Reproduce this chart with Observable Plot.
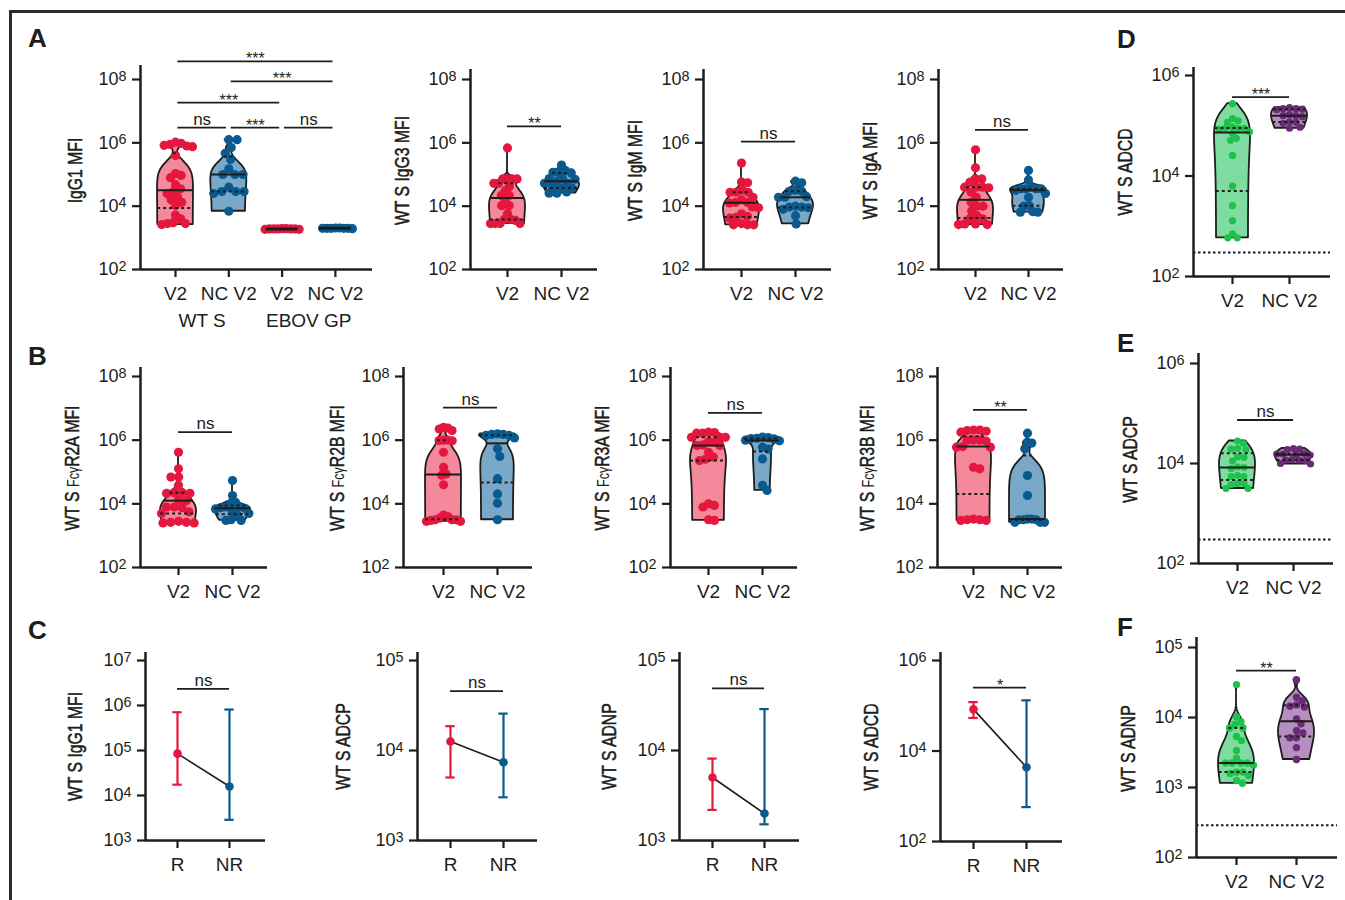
<!DOCTYPE html>
<html><head><meta charset="utf-8">
<script src="https://cdn.jsdelivr.net/npm/d3@7"></script>
<script src="https://cdn.jsdelivr.net/npm/@observablehq/plot@0.6"></script>
<style>
body{margin:0;background:#fff;overflow:hidden;}
#fig{position:relative;width:1345px;height:900px;overflow:hidden;background:#fff;font-family:'Liberation Sans',Arimo,Arial,sans-serif;color:#1d1d1b;}
.fr{position:absolute;background:#2b2b2b}
.letter{position:absolute;font-weight:bold;font-size:26px;line-height:1;}
</style></head><body><div id="fig">
<div class="fr" style="left:9px;top:10px;width:1336px;height:3px"></div>
<div class="fr" style="left:9px;top:10px;width:3px;height:890px"></div>
</div>
<script>
// ---------------- DATA (log10 of the plotted value) ----------------
// Panel A – WT S / EBOV GP IgG1 MFI
const igg1WtsV2   = [6.02,5.98,5.95,5.92,5.9,5.88,5.6,5.03,4.97,4.9,4.68,4.55,4.45,4.4,4.3,4.2,4.12,4.02,3.72,3.6,3.48,3.45,3.45,3.42];
const igg1WtsNcV2 = [6.1,6.1,5.85,5.67,5.47,5.18,5.0,5.0,5.0,4.6,4.46,4.46,4.46,4.4,3.84];
const igg1EbovV2  = [3.28,3.28,3.27,3.29,3.28,3.28,3.27,3.29,3.28];
const igg1EbovNcV2= [3.3,3.31,3.3,3.29,3.3,3.31,3.3,3.3];
// Panel A – IgG3, IgM, IgA
const igg3V2   = [5.84,4.86,4.86,4.86,4.86,4.72,4.72,4.62,4.49,4.34,4.34,4.18,4.02,4.02,3.77,3.58,3.58,3.55,3.45,3.45,3.45,3.45];
const igg3NcV2 = [5.3,5.12,5.07,5.07,5.05,4.87,4.87,4.85,4.79,4.72,4.72,4.62,4.57,4.57,4.45,4.41,4.41];
const igmV2    = [5.36,4.76,4.74,4.5,4.44,4.44,4.44,4.28,4.2,4.12,4.12,4.1,3.97,3.95,3.76,3.68,3.65,3.62,3.45,3.41,3.41,3.41];
const igmNcV2  = [4.79,4.74,4.5,4.47,4.47,4.3,4.28,4.28,4.0,3.97,3.97,3.95,3.9,3.7,3.44];
const igaV2    = [5.78,5.21,4.86,4.86,4.75,4.6,4.6,4.6,4.58,4.44,4.28,4.12,4.0,4.0,3.85,3.7,3.6,3.6,3.44,3.42,3.42,3.44];
const igaNcV2  = [5.13,4.83,4.6,4.55,4.55,4.55,4.55,4.5,4.4,4.28,4.02,4.0,3.83,3.81,3.81];
// Panel B – Fc receptor binding
const r2aV2   = [5.62,5.1,4.84,4.84,4.58,4.35,4.33,4.33,4.35,4.1,4.12,3.9,3.88,3.9,3.75,3.7,3.42,3.4,3.4,3.42,3.45];
const r2aNcV2 = [4.73,4.26,4.05,4.0,3.9,3.9,3.88,3.86,3.84,3.75,3.7,3.65,3.5,3.48,3.48];
const r2bV2   = [6.4,6.38,6.35,6.3,6.0,6.0,5.99,5.98,5.62,5.15,4.94,4.9,4.6,3.65,3.6,3.55,3.5,3.5,3.48,3.45,3.45,3.5];
const r2bNcV2 = [6.2,6.18,6.18,6.15,6.15,6.07,5.73,5.49,4.79,4.31,4.02,3.5];
const r3aV2   = [6.25,6.24,6.22,6.22,6.1,6.09,6.09,5.95,5.94,5.85,5.83,5.83,5.62,5.47,5.4,5.36,4.0,3.95,3.9,3.5,3.48];
const r3aNcV2 = [6.1,6.08,6.06,6.05,6.04,6.0,5.98,5.78,5.72,5.41,4.58,4.42];
const r3bV2   = [6.32,6.32,6.28,6.3,6.25,6.0,6.0,5.99,5.97,5.8,5.78,5.78,5.15,5.1,3.52,3.5,3.48,3.5,3.48];
const r3bNcV2 = [6.22,5.93,5.91,5.73,4.89,4.26,3.52,3.52,3.5,3.5,3.5,3.42,3.42,3.42];
// Panels D, E, F – functions
const adcdV2   = [5.44,5.14,5.1,5.07,4.98,4.95,4.95,4.95,4.93,4.88,4.85,4.75,4.71,4.41,3.8,3.41,3.11,2.85,2.77,2.77];
const adcdNcV2 = [5.36,5.34,5.34,5.33,5.32,5.22,5.2,5.2,5.18,5.08,5.07,5.05,4.97,4.95];
const adcpV2   = [4.45,4.4,4.3,4.29,4.28,4.13,4.12,4.05,3.93,3.9,3.92,3.76,3.74,3.74,3.6,3.58,3.6,3.5,3.5];
const adcpNcV2 = [4.3,4.29,4.28,4.2,4.19,4.19,4.18,4.17,4.08,4.07,4.07,4.06,4.0,3.99];
const adnpV2   = [4.47,4.01,3.94,3.9,3.85,3.85,3.73,3.67,3.53,3.42,3.35,3.35,3.35,3.35,3.32,3.22,3.22,3.2,3.17,3.1,3.06];
const adnpNcV2 = [4.54,4.29,4.24,4.15,4.18,4.16,3.98,3.91,3.81,3.78,3.71,3.71,3.57,3.4];
// Panel C – responders (R) vs non-responders (NR): [centre, low, high]
const cIgG1 = [[4.93,4.24,5.85],[4.2,3.46,5.91]];
const cAdcp = [[4.1,3.7,4.27],[3.87,3.48,4.41]];
const cAdnp = [[3.7,3.34,3.91],[3.3,3.18,4.46]];
const cAdcd = [[4.92,4.73,5.08],[3.64,2.76,5.12]];
// labels
const groupLabels = ["V2","NC V2"];
const groupLabelsA1 = ["V2","NC V2","V2","NC V2"];
const antigenLabels = ["WT S","EBOV GP"];
const respLabels = ["R","NR"];
// significance: [from group, to group, level (log10), label]
const sigA1 = [[0,3,8.57,"***"],[1,3,7.94,"***"],[0,2,7.27,"***"],[0,1,6.48,"ns"],[1,2,6.48,"***"],[2,3,6.48,"ns"]];
const sigA2=[[0,1,6.52,"**"]], sigA3=[[0,1,6.04,"ns"]], sigA4=[[0,1,6.41,"ns"]], sigD=[[0,1,5.57,"***"]];
const sigB1=[[0,1,6.25,"ns"]], sigB2=[[0,1,7.02,"ns"]], sigB3=[[0,1,6.86,"ns"]], sigB4=[[0,1,6.95,"**"]], sigE=[[0,1,4.87,"ns"]];
const sigC1=[[0,1,6.37,"ns"]], sigC2=[[0,1,4.66,"ns"]], sigC3=[[0,1,4.69,"ns"]], sigC4=[[0,1,5.4,"*"]], sigF=[[0,1,4.67,"**"]];

// ---------------- STYLE ----------------
const INK="#1d1d1b";
const RED="#E5173F", PINK="#F4899B", BLUE="#0B5A8F", LBLUE="#79A8C8";
const GREEN="#1EC24B", LGREEN="#7EDCA0", PURPLE="#6B2A75", LPURPLE="#B68FC1";
const SANS="'Liberation Sans', Arimo, Arial, sans-serif";

function swarm(vals, ppd, r, cap){
  const d=2*r*0.9;
  const pts=vals.map(t=>({t,y:-t*ppd})).sort((a,b)=>a.y-b.y);
  const placed=[];
  for(const p of pts){
    const c=[0];
    for(const q of placed){const dy=q.y-p.y; if(Math.abs(dy)<d){const dx=Math.sqrt(d*d-dy*dy); c.push(q.x+dx+1e-6,q.x-dx-1e-6);}}
    c.sort((a,b)=>Math.abs(a)-Math.abs(b));
    let best=c.find(cx=>placed.every(q=>(q.x-cx)**2+(q.y-p.y)**2>=d*d-1e-3));
    if(best===undefined) best=(d3.max(placed,q=>q.x)||0)+d;
    p.x=best; placed.push(p);
  }
  const m=d3.max(placed,p=>Math.abs(p.x));
  if(m>cap) placed.forEach(p=>p.x*=cap/m);
  return placed;
}

function violin(g,i,cfg,sp,ppd){
  const r=cfg.r, maxHalf=18/sp, cap=17;
  const vals=g.vals.slice().sort(d3.ascending);
  const lo=vals[0], hi=vals[vals.length-1];
  const lin=vals.map(v=>10**v);
  const marks=[];
  const q=[0.25,0.5,0.75].map(p=>d3.quantile(vals,p));
  const flat = hi-lo<0.1;
  let widthAt=()=>0.3;
  if(!flat){
    const sd=d3.deviation(lin);
    const iqr=d3.quantile(lin,0.75)-d3.quantile(lin,0.25);
    let s=Math.min(sd,iqr/1.34); if(!(s>0)) s=sd;
    const bw=0.9*s*Math.pow(lin.length,-0.2)*(cfg.bwk||1);
    const dens=t=>d3.sum(lin,x=>Math.exp(-0.5*((10**t-x)/bw)**2));
    const ts=d3.range(161).map(k=>lo+(hi-lo)*k/160);
    const ds=ts.map(dens), m=d3.max(ds);
    widthAt=t=>dens(t)/m*maxHalf;
    const shape=ts.map((t,k)=>({t,w:ds[k]/m*maxHalf}));
    marks.push(Plot.areaX(shape,{y:d=>10**d.t,x1:d=>i-d.w,x2:d=>i+d.w,fill:g.fill,curve:"linear"}));
    marks.push(Plot.areaX(shape,{y:d=>10**d.t,x1:d=>i-d.w,x2:d=>i+d.w,fill:"none",stroke:INK,strokeWidth:1.8,strokeLinejoin:"round",curve:"linear"}));
  }
  const pts=swarm(vals,ppd,r,cap).map(p=>({x:i+p.x/sp,t:p.t}));
  marks.push(Plot.dot(pts,{x:"x",y:d=>10**d.t,r,fill:g.dot,stroke:"none"}));
  const lines=q.map((t,k)=>({t,w:widthAt(t),med:k===1}));
  marks.push(Plot.ruleY(lines.filter(d=>d.med),{y:d=>10**d.t,x1:d=>i-d.w,x2:d=>i+d.w,stroke:INK,strokeWidth:flat?3:2}));
  if(!flat) marks.push(Plot.ruleY(lines.filter(d=>!d.med),{y:d=>10**d.t,x1:d=>i-d.w,x2:d=>i+d.w,stroke:INK,strokeWidth:2,strokeDasharray:"3,3"}));
  return marks;
}

function errMarks(errs,sp,colors){
  const pts=errs.map(([m,lo,hi],i)=>({i,m,lo,hi,c:colors[i]}));
  const cw=4.7/sp;
  const caps=pts.flatMap(p=>[{i:p.i,v:p.lo,c:p.c},{i:p.i,v:p.hi,c:p.c}]);
  return [
    Plot.line(pts,{x:"i",y:d=>10**d.m,stroke:INK,strokeWidth:1.6}),
    Plot.ruleX(pts,{x:"i",y1:d=>10**d.lo,y2:d=>10**d.hi,stroke:d=>d.c,strokeWidth:2.2}),
    Plot.ruleY(caps,{y:d=>10**d.v,x1:d=>d.i-cw,x2:d=>d.i+cw,stroke:d=>d.c,strokeWidth:2.2}),
    Plot.dot(pts,{x:"i",y:d=>10**d.m,r:4.3,fill:d=>d.c,stroke:"none"})
  ];
}

function panel(cfg){
  const ML=100, MR=12, MT=90, MB=70;
  const sp=cfg.tx[1]-cfg.tx[0];
  const x0=(cfg.left-cfg.tx[0])/sp, x1=(cfg.right-cfg.tx[0])/sp;
  const W=ML+cfg.right-cfg.left+MR, H=MT+cfg.yBot-cfg.yTop+MB;
  const ppd=(cfg.yBot-cfg.yTop)/(cfg.hi-cfg.lo);
  const marks=[];
  if(cfg.ref!=null) marks.push(Plot.ruleY([10**cfg.ref],{stroke:INK,strokeWidth:2,strokeDasharray:"2.5,2.5"}));
  if(cfg.groups) cfg.groups.forEach((g,i)=>marks.push(...violin(g,i,cfg,sp,ppd)));
  if(cfg.errs) marks.push(...errMarks(cfg.errs,sp,[RED,BLUE]));
  const br=cfg.sig.map(([a,b,lev,lab])=>({a,b,lev,lab}));
  const ins=cfg.inset||0;
  marks.push(Plot.ruleY(br,{y:d=>10**d.lev,x1:d=>d.a+ins,x2:d=>d.b-ins,stroke:INK,strokeWidth:1.8}));
  marks.push(Plot.text(br.filter(d=>d.lab==="ns"),{x:d=>(d.a+d.b)/2,y:d=>10**d.lev,text:"lab",lineAnchor:"bottom",dy:-3,fontSize:17,fill:INK}));
  marks.push(Plot.text(br.filter(d=>d.lab!=="ns"),{x:d=>(d.a+d.b)/2,y:d=>10**d.lev,text:"lab",lineAnchor:"bottom",dy:3,fontSize:16,fill:INK}));
  marks.push(Plot.ruleY([10**cfg.lo],{stroke:INK,strokeWidth:2.5}));
  marks.push(Plot.ruleX([x0],{stroke:INK,strokeWidth:2.5,insetTop:-(cfg.ext||10)}));
  marks.push(Plot.axisY({ticks:cfg.yt.map(e=>10**e),tickFormat:d=>"10^"+Math.round(Math.log10(d)),tickSize:8,tickPadding:6,fontSize:18,strokeWidth:2.2,label:null}));
  marks.push(Plot.axisX({ticks:d3.range(cfg.xl.length),tickFormat:i=>cfg.xl[i],tickSize:8,tickPadding:9,fontSize:19,strokeWidth:2.2,label:null}));
  marks.push(Plot.text([cfg.title],{frameAnchor:"left",textAnchor:"middle",lineAnchor:"middle",rotate:-90,dx:-(cfg.tdx||68),dy:-4,text:d=>d,fontFamily:SANS,fontSize:21,fill:INK,stroke:INK,strokeWidth:0.55}));
  if(cfg.sub) marks.push(Plot.text(cfg.sub,{x:"x",text:"text",frameAnchor:"bottom",dy:44,lineAnchor:"top",fontSize:19,fill:INK}));
  const svg=Plot.plot({width:W,height:H,marginLeft:ML,marginRight:MR,marginTop:MT,marginBottom:MB,
    x:{domain:[x0,x1]},y:{type:"log",domain:[10**cfg.lo,10**cfg.hi]},color:{type:"identity"},
    style:{fontFamily:SANS,color:INK,background:"none",overflow:"visible"},marks});
  svg.style.position="absolute";
  svg.style.left=(cfg.left-ML)+"px";
  svg.style.top=(cfg.yTop-MT)+"px";
  const NS="http://www.w3.org/2000/svg";
  svg.querySelectorAll("text").forEach(t=>{
    const s=t.textContent, m=/^10\^(\d+)$/.exec(s);
    if(s===cfg.title) t.classList.add("ytitle");
    if(m){t.textContent="10"; const ts=document.createElementNS(NS,"tspan"); ts.setAttribute("dy","-0.32em"); ts.setAttribute("font-size","0.8em"); ts.textContent=m[1]; t.appendChild(ts);}
    else if(s.includes("Fcγ")){
      const [a,b]=s.split("Fcγ"); t.textContent="";
      const t1=document.createElementNS(NS,"tspan"); t1.textContent=a;
      const t2=document.createElementNS(NS,"tspan"); t2.textContent="Fcγ"; t2.setAttribute("font-size","0.8em"); t2.setAttribute("stroke-width","0");
      const t3=document.createElementNS(NS,"tspan"); t3.textContent=b;
      t.append(t1,t2,t3);
    }
  });
  return svg;
}

const rowA={yTop:79,yBot:269,lo:2,hi:8,yt:[2,4,6,8],r:4.6};
const rowB={yTop:376,yBot:567,lo:2,hi:8,yt:[2,4,6,8],r:4.6};
const rb=[{dot:RED,fill:PINK},{dot:BLUE,fill:LBLUE}];
const gp=[{dot:GREEN,fill:LGREEN},{dot:PURPLE,fill:LPURPLE}];
const panels=[
  {...rowA,left:140,right:372,tx:[175,228.3],ext:14,tdx:65,title:"IgG1 MFI",xl:groupLabelsA1,
    sub:antigenLabels.map((text,k)=>({x:0.5+2*k,text})),inset:0.045,sig:sigA1,
    groups:[{vals:igg1WtsV2,...rb[0]},{vals:igg1WtsNcV2,...rb[1]},{vals:igg1EbovV2,...rb[0]},{vals:igg1EbovNcV2,...rb[1]}]},
  {...rowA,left:470,right:597,tx:[507,561],title:"WT S IgG3 MFI",xl:groupLabels,sig:sigA2,groups:[{vals:igg3V2,...rb[0]},{vals:igg3NcV2,...rb[1]}]},
  {...rowA,left:703,right:831,tx:[741,795],title:"WT S IgM MFI",xl:groupLabels,sig:sigA3,groups:[{vals:igmV2,...rb[0]},{vals:igmNcV2,...rb[1]}]},
  {...rowA,left:938,right:1063,tx:[975,1028],title:"WT S IgA MFI",xl:groupLabels,sig:sigA4,groups:[{vals:igaV2,...rb[0]},{vals:igaNcV2,...rb[1]}]},
  {left:1193,right:1330,tx:[1232,1289],yTop:75,yBot:276,lo:2,hi:6,yt:[2,4,6],ext:8,r:3.6,ref:2.48,bwk:3.6,title:"WT S ADCD",xl:groupLabels,sig:sigD,groups:[{vals:adcdV2,...gp[0]},{vals:adcdNcV2,...gp[1]}]},
  {...rowB,left:140,right:267,tx:[178,232],ext:9,title:"WT S FcγR2A MFI",xl:groupLabels,sig:sigB1,groups:[{vals:r2aV2,...rb[0]},{vals:r2aNcV2,...rb[1]}]},
  {...rowB,left:403,right:532,tx:[443,497],ext:9,tdx:66,title:"WT S FcγR2B MFI",xl:groupLabels,sig:sigB2,groups:[{vals:r2bV2,...rb[0]},{vals:r2bNcV2,...rb[1]}]},
  {...rowB,left:670,right:797,tx:[708,762],ext:9,title:"WT S FcγR3A MFI",xl:groupLabels,sig:sigB3,groups:[{vals:r3aV2,...rb[0]},{vals:r3aNcV2,...rb[1]}]},
  {...rowB,left:937,right:1062,tx:[973,1027],ext:9,tdx:70,title:"WT S FcγR3B MFI",xl:groupLabels,sig:sigB4,groups:[{vals:r3bV2,...rb[0]},{vals:r3bNcV2,...rb[1]}]},
  {left:1198,right:1333,tx:[1237,1293],yTop:363,yBot:563,lo:2,hi:6,yt:[2,4,6],ext:10,r:3.6,ref:2.48,bwk:3,title:"WT S ADCP",xl:groupLabels,sig:sigE,groups:[{vals:adcpV2,...gp[0]},{vals:adcpNcV2,...gp[1]}]},
  {left:145,right:265,tx:[177,229],yTop:660,yBot:840,lo:3,hi:7,yt:[3,4,5,6,7],ext:8,tdx:70,title:"WT S IgG1 MFI",xl:respLabels,sig:sigC1,errs:cIgG1},
  {left:417,right:537,tx:[450,503],yTop:660,yBot:840,lo:3,hi:5,yt:[3,4,5],ext:8,tdx:74,title:"WT S ADCP",xl:respLabels,sig:sigC2,errs:cAdcp},
  {left:679,right:799,tx:[712,764],yTop:660,yBot:840,lo:3,hi:5,yt:[3,4,5],ext:8,tdx:70,title:"WT S ADNP",xl:respLabels,sig:sigC3,errs:cAdnp},
  {left:940,right:1062,tx:[973,1026],yTop:660,yBot:841,lo:2,hi:6,yt:[2,4,6],ext:8,tdx:69,title:"WT S ADCD",xl:respLabels,sig:sigC4,errs:cAdcd},
  {left:1196,right:1337,tx:[1236,1296],yTop:647,yBot:857,lo:2,hi:5,yt:[2,3,4,5],ext:10,r:3.7,ref:2.46,title:"WT S ADNP",xl:groupLabels,sig:sigF,groups:[{vals:adnpV2,...gp[0]},{vals:adnpNcV2,...gp[1]}]}
];
const fig=document.getElementById("fig");
panels.forEach(p=>fig.appendChild(panel(p)));
// condensed look for the axis titles: squeeze the rendered glyphs horizontally
fig.querySelectorAll("text.ytitle").forEach(t=>{
  const len=t.getComputedTextLength();
  if(len>0){t.setAttribute("textLength",(len*0.75).toFixed(1)); t.setAttribute("lengthAdjust","spacingAndGlyphs");}
});
[["A",28,25],["B",28,343],["C",28,617],["D",1117,26],["E",1117,330],["F",1117,614]].forEach(([t,x,y])=>{
  const d=document.createElement("div"); d.className="letter"; d.textContent=t; d.style.left=x+"px"; d.style.top=y+"px"; fig.appendChild(d);
});
</script></body></html>
